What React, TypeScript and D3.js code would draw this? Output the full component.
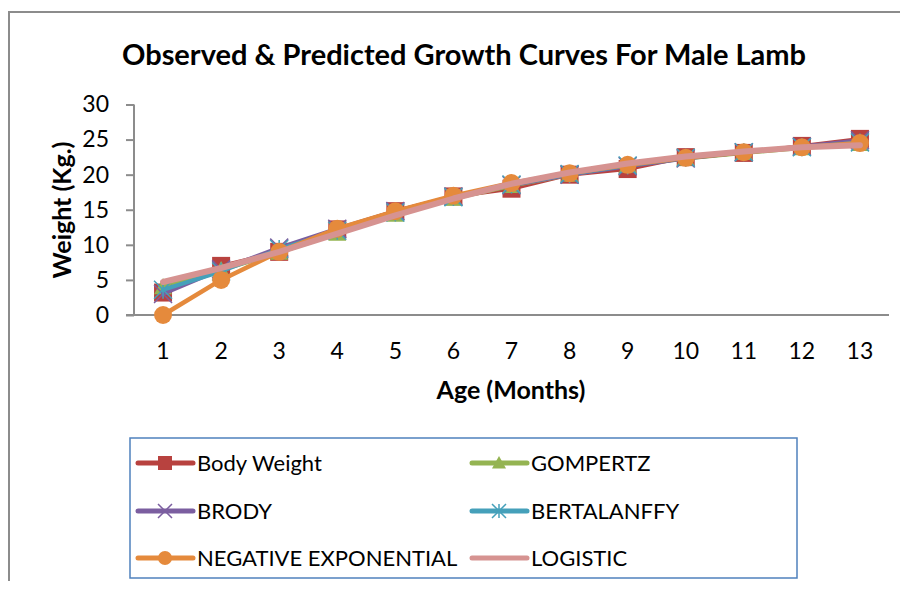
import React, { useEffect, useRef } from 'react';
import * as d3 from 'd3';

const ages = [1, 2, 3, 4, 5, 6, 7, 8, 9, 10, 11, 12, 13];
const bodyWeight = [3.2, 7.0, 9.0, 12.2, 14.8, 16.9, 18.0, 20.0, 20.8, 22.5, 23.1, 24.1, 25.1];
const gompertz = [4.0, 6.4, 8.9, 11.6, 14.3, 16.6, 18.4, 20.0, 21.3, 22.3, 23.1, 23.8, 24.4];
const brody = [3.0, 6.5, 9.6, 12.3, 14.8, 16.9, 18.5, 20.0, 21.2, 22.3, 23.2, 24.0, 24.9];
const bertalanffy = [3.6, 6.2, 9.4, 12.0, 14.6, 16.8, 18.6, 20.1, 21.3, 22.4, 23.2, 23.9, 24.6];
const negExponential = [0, 5.0, 9.0, 12.3, 14.8, 17.0, 18.8, 20.2, 21.4, 22.4, 23.2, 23.9, 24.5];
const logistic = [4.7, 6.7, 9.0, 11.6, 14.2, 16.6, 18.7, 20.3, 21.6, 22.6, 23.3, 23.9, 24.2];

const seriesNames = ['Body Weight', 'GOMPERTZ', 'BRODY', 'BERTALANFFY', 'NEGATIVE EXPONENTIAL', 'LOGISTIC'];
const yTicks = [0, 5, 10, 15, 20, 25, 30];

const font = 'Lato, "Open Sans", sans-serif';

function drawMarker(g: any, kind: string, cx: number, cy: number, s: number, color: string) {
  const h = s / 2;
  if (kind === 'square') {
    g.append('rect').attr('x', cx - h).attr('y', cy - h).attr('width', s).attr('height', s)
      .attr('fill', color);
  } else if (kind === 'triangle') {
    g.append('path')
      .attr('d', `M${cx},${cy - h}L${cx + h},${cy + h * 0.8}L${cx - h},${cy + h * 0.8}Z`)
      .attr('fill', color);
  } else if (kind === 'x') {
    g.append('path')
      .attr('d', `M${cx - h},${cy - h}L${cx + h},${cy + h}M${cx - h},${cy + h}L${cx + h},${cy - h}`)
      .attr('stroke', color).attr('stroke-width', 1.5);
  } else if (kind === 'star') {
    g.append('path')
      .attr('d', `M${cx - h},${cy - h}L${cx + h},${cy + h}M${cx - h},${cy + h}L${cx + h},${cy - h}M${cx},${cy - h}L${cx},${cy + h}`)
      .attr('stroke', color).attr('stroke-width', 1.5);
  } else if (kind === 'circle') {
    g.append('circle').attr('cx', cx).attr('cy', cy).attr('r', h).attr('fill', color);
  }
}

function Chart() {
  const ref = useRef<SVGSVGElement>(null);

  useEffect(() => {
    const svg = d3.select(ref.current);
    svg.selectAll('*').remove();

    const series = [
      { name: seriesNames[0], values: bodyWeight, color: '#B8423F', marker: 'square', width: 4 },
      { name: seriesNames[1], values: gompertz, color: '#94B452', marker: 'triangle', width: 4 },
      { name: seriesNames[2], values: brody, color: '#7B5EA0', marker: 'x', width: 4 },
      { name: seriesNames[3], values: bertalanffy, color: '#45A0BA', marker: 'star', width: 4 },
      { name: seriesNames[4], values: negExponential, color: '#E58A3C', marker: 'circle', width: 4.5 },
      { name: seriesNames[5], values: logistic, color: '#D69391', marker: 'none', width: 6 },
    ];

    // outer chart frame
    svg.append('path')
      .attr('d', 'M9,589V12H908')
      .attr('fill', 'none')
      .attr('stroke', '#8c8c8c')
      .attr('stroke-width', 2);

    svg.append('text')
      .attr('x', 464).attr('y', 65)
      .attr('text-anchor', 'middle')
      .style('font-family', font).style('font-weight', 'bold').style('font-size', '29px')
      .text('Observed & Predicted Growth Curves For Male Lamb');

    const x = d3.scaleBand<number>().domain(ages).range([134, 889]).padding(0);
    const cx = (a: number) => (x(a) as number) + x.bandwidth() / 2;
    const y = d3.scaleLinear().domain([0, 30]).range([315, 104.5]);

    // y axis
    const yAxis = svg.append('g').attr('transform', 'translate(134,0)')
      .call(d3.axisLeft(y).tickValues(yTicks).tickSize(8).tickPadding(17));
    yAxis.select('.domain').attr('stroke', '#8c8c8c').attr('stroke-width', 2).attr('d', `M0,${y(30)}V${y(0)}`);
    yAxis.selectAll('.tick line').attr('stroke', '#8c8c8c').attr('stroke-width', 2);
    yAxis.selectAll('.tick text').style('font-family', font).style('font-size', '23px').attr('fill', '#000');

    // x axis
    svg.append('line')
      .attr('x1', 126).attr('x2', 889).attr('y1', y(0)).attr('y2', y(0))
      .attr('stroke', '#8c8c8c').attr('stroke-width', 2);
    svg.append('g').selectAll('text').data(ages).enter().append('text')
      .attr('x', (d) => cx(d)).attr('y', 359)
      .attr('text-anchor', 'middle')
      .style('font-family', font).style('font-size', '23px')
      .text((d) => d);

    svg.append('text')
      .attr('x', 511).attr('y', 399).attr('text-anchor', 'middle')
      .style('font-family', font).style('font-weight', 'bold').style('font-size', '25px')
      .text('Age (Months)');

    svg.append('text')
      .attr('transform', 'translate(71,210) rotate(-90)')
      .attr('text-anchor', 'middle')
      .style('font-family', font).style('font-weight', 'bold').style('font-size', '25px')
      .text('Weight (Kg.)');

    const line = d3.line<number>().x((d, i) => cx(ages[i])).y((d) => y(d));

    series.forEach((s) => {
      const g = svg.append('g');
      g.append('path')
        .attr('d', line(s.values))
        .attr('fill', 'none')
        .attr('stroke', s.color)
        .attr('stroke-width', s.width)
        .attr('stroke-linejoin', 'round')
        .attr('stroke-linecap', 'round');
      s.values.forEach((v, i) => drawMarker(g, s.marker, cx(ages[i]), y(v), 18, s.color));
    });

    // legend
    svg.append('rect')
      .attr('x', 130).attr('y', 438).attr('width', 667).attr('height', 140)
      .attr('fill', 'none').attr('stroke', '#4F81BD').attr('stroke-width', 1.5);

    const colX = [138, 472];
    const rowY = [463, 511, 558];
    series.forEach((s, i) => {
      const lx = colX[i % 2];
      const ly = rowY[Math.floor(i / 2)];
      const g = svg.append('g');
      g.append('line')
        .attr('x1', lx).attr('x2', lx + 55).attr('y1', ly).attr('y2', ly)
        .attr('stroke', s.color).attr('stroke-width', 5).attr('stroke-linecap', 'round');
      drawMarker(g, s.marker, lx + 27, ly, 14, s.color);
      g.append('text')
        .attr('x', lx + 59).attr('y', ly + 8)
        .style('font-family', font).style('font-size', '22px')
        .text(s.name);
    });
  }, []);

  return <svg ref={ref} width={908} height={589} style={{ display: 'block' }} />;
}

export default function App() {
  return (
    <div style={{ margin: -8 }}>
      <Chart />
    </div>
  );
}
